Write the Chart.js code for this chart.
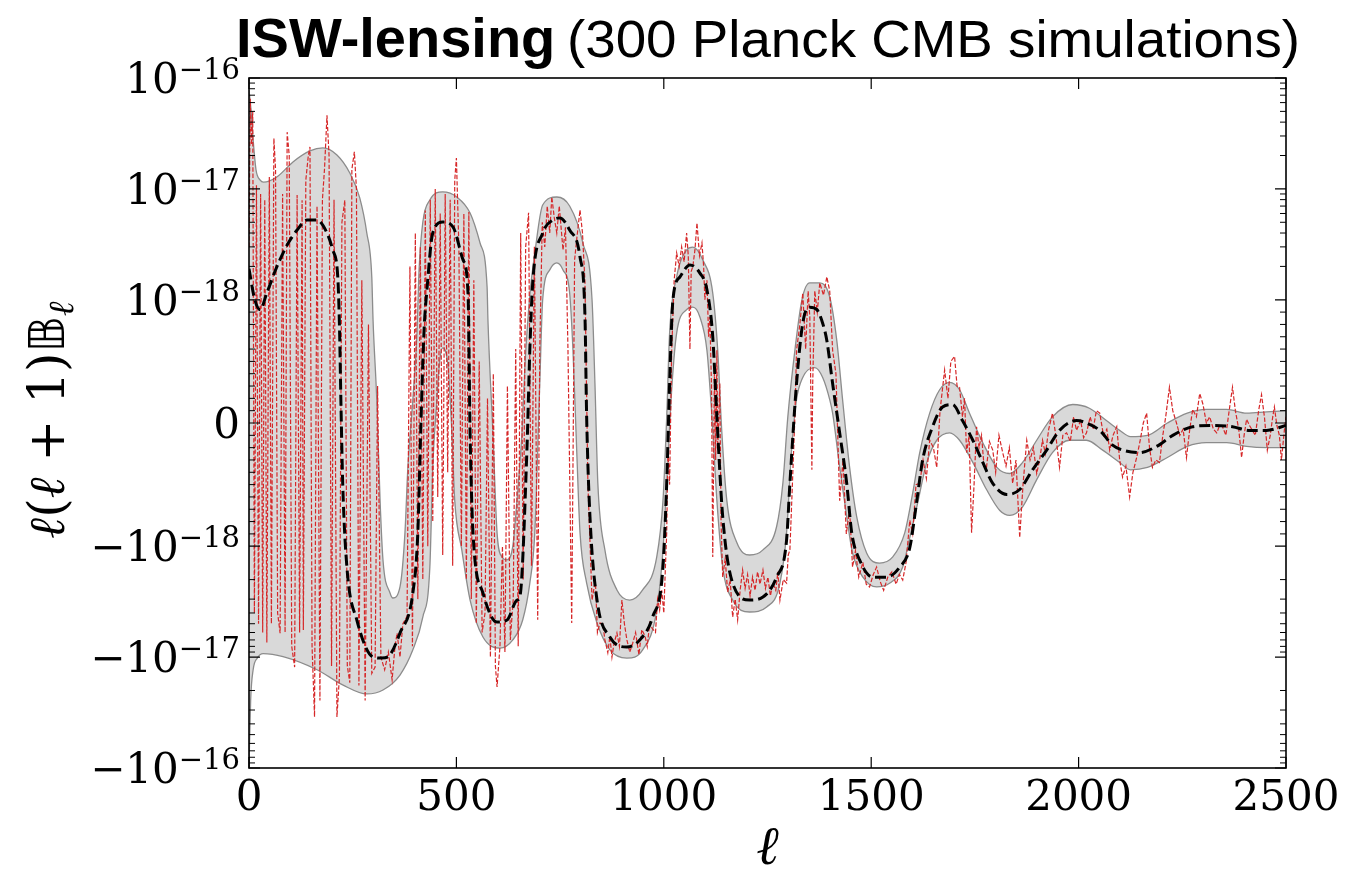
<!DOCTYPE html>
<html>
<head>
<meta charset="utf-8">
<script src="https://cdn.jsdelivr.net/npm/chart.js@4.4.1/dist/chart.umd.min.js"></script>
<style>
  html, body { margin: 0; padding: 0; background: #fff; }
</style>
</head>
<body>
<canvas id="chart" width="1351" height="873"></canvas>
<script>
// all values in units of 1e-18
const meanEll = [0, 14, 27, 43, 67, 92, 116, 140, 164, 188, 202, 214, 218, 222, 226, 236, 260, 299, 320, 340, 364, 395, 407, 414, 422, 429, 443, 467, 492, 516, 528, 533, 540, 564, 598, 622, 646, 653, 670, 677, 684, 708, 733, 749, 773, 798, 810, 814, 822, 839, 870, 911, 942, 973, 998, 1007, 1014, 1022, 1039, 1063, 1087, 1104, 1118, 1128, 1142, 1166, 1207, 1239, 1272, 1296, 1304, 1320, 1335, 1352, 1369, 1383, 1393, 1407, 1424, 1441, 1453, 1472, 1504, 1537, 1569, 1593, 1610, 1624, 1648, 1672, 1696, 1720, 1745, 1769, 1793, 1827, 1858, 1889, 1923, 1954, 1995, 2019, 2051, 2082, 2106, 2147, 2188, 2227, 2275, 2323, 2371, 2412, 2453, 2500];
const meanVal = [1.9, 1.0, 0.92, 1.15, 1.98, 3.12, 4.26, 5.24, 5.24, 4.0, 2.81, 1.61, 0.8, 0.1, -0.5, -1.54, -4.63, -9.98, -10.2, -9.5, -6.06, -2.64, -0.89, -0.06, 0.75, 1.23, 4.0, 5.03, 4.53, 2.29, 1.15, -0.08, -0.89, -2.64, -4.83, -4.63, -3.06, -2.85, -0.22, 0.59, 1.42, 4.0, 5.24, 5.47, 4.26, 2.43, 0.86, 0.05, -0.76, -3.06, -6.59, -8.11, -7.01, -4.35, -1.54, -0.49, 0.32, 1.0, 1.61, 2.06, 1.74, 1.23, 0.70, 0.05, -0.76, -2.15, -3.06, -2.87, -1.90, -0.95, -0.49, 0.32, 0.81, 0.94, 0.92, 0.81, 0.67, 0.32, -0.08, -0.49, -0.89, -1.33, -1.90, -1.90, -1.54, -1.03, -0.63, -0.30, -0.03, 0.13, 0.15, 0.02, -0.14, -0.32, -0.49, -0.58, -0.54, -0.38, -0.22, -0.06, 0.02, 0.0, -0.06, -0.18, -0.22, -0.24, -0.19, -0.10, -0.03, -0.02, -0.03, -0.06, -0.06, -0.02];

const upperEll = [0, 5, 10, 17, 27, 35, 67, 106, 147, 178, 212, 243, 267, 284, 296, 299, 308, 316, 323, 340, 347, 364, 376, 383, 395, 405, 410, 419, 436, 467, 501, 533, 557, 574, 576, 588, 598, 610, 622, 636, 646, 658, 665, 677, 690, 708, 742, 773, 805, 827, 834, 841, 858, 887, 918, 949, 983, 998, 1007, 1014, 1031, 1055, 1070, 1094, 1118, 1130, 1140, 1152, 1176, 1207, 1239, 1272, 1287, 1299, 1316, 1333, 1352, 1376, 1400, 1417, 1431, 1448, 1465, 1489, 1520, 1552, 1581, 1600, 1617, 1641, 1665, 1689, 1713, 1737, 1769, 1803, 1834, 1865, 1899, 1937, 1986, 2026, 2067, 2099, 2125, 2166, 2214, 2262, 2308, 2357, 2405, 2453, 2500];
const upperVal = [78, 51, 27.6, 14.8, 12.0, 11.5, 12.8, 17.5, 22, 23.4, 20.2, 13.9, 8.3, 4.0, 1.61, 0.84, 0.19, -0.63, -1.33, -2.64, -2.93, -2.33, -0.89, -0.36, 0.19, 0.73, 1.86, 5.0, 7.94, 9.4, 8.45, 6.06, 3.25, 1.30, 0.84, -0.08, -0.89, -1.25, -1.33, -1.0, -0.63, -0.08, 0.45, 1.10, 2.81, 7.16, 8.45, 7.01, 3.25, 1.0, 0.32, -0.49, -1.08, -2.48, -3.06, -2.48, -1.25, -0.63, 0.05, 0.73, 1.61, 2.81, 2.99, 2.29, 1.15, 0.59, -0.08, -0.63, -0.97, -1.20, -1.08, -0.84, -0.49, 0.05, 0.59, 1.0, 1.42, 1.42, 1.06, 0.67, 0.19, -0.36, -0.76, -1.15, -1.42, -1.25, -0.89, -0.57, -0.24, 0.08, 0.27, 0.33, 0.27, 0.08, -0.16, -0.36, -0.41, -0.32, -0.14, 0.05, 0.15, 0.12, 0.02, -0.06, -0.11, -0.10, 0.0, 0.08, 0.11, 0.11, 0.08, 0.09, 0.10];

const lowerEll = [0, 4, 10, 20, 34, 82, 164, 227, 284, 323, 364, 395, 419, 436, 443, 453, 460, 467, 480, 489, 496, 513, 533, 564, 605, 636, 660, 677, 689, 701, 708, 725, 742, 757, 773, 781, 790, 798, 814, 839, 870, 911, 949, 983, 998, 1007, 1020, 1031, 1055, 1070, 1087, 1104, 1116, 1128, 1142, 1166, 1207, 1248, 1280, 1296, 1308, 1320, 1335, 1364, 1383, 1400, 1407, 1424, 1441, 1455, 1480, 1513, 1545, 1576, 1593, 1610, 1634, 1658, 1689, 1713, 1745, 1778, 1810, 1834, 1865, 1899, 1937, 1978, 2019, 2058, 2099, 2125, 2166, 2214, 2262, 2308, 2357, 2405, 2453, 2500];
const lowerVal = [-98, -24.4, -13, -10.2, -9.3, -9.9, -13, -17.9, -21.5, -19.8, -14.5, -8.6, -4.35, -1.54, -0.36, 0.19, 0.51, 0.61, 0.45, -0.08, -0.63, -1.08, -3.06, -6.59, -8.3, -7.0, -4.6, -2.15, -0.89, 0.32, 1.0, 1.86, 2.15, 1.86, 1.15, 0.59, -0.22, -0.89, -2.15, -4.93, -8.6, -10.2, -8.6, -3.76, -1.08, -0.49, 0.32, 0.73, 0.92, 0.94, 0.86, 0.59, 0.05, -0.63, -1.54, -3.06, -3.92, -3.53, -2.15, -0.89, -0.22, 0.19, 0.37, 0.45, 0.37, 0.19, 0.08, -0.36, -0.76, -1.15, -1.90, -2.33, -2.15, -1.54, -0.93, -0.68, -0.32, -0.14, -0.08, -0.14, -0.32, -0.54, -0.71, -0.75, -0.68, -0.46, -0.24, -0.14, -0.14, -0.22, -0.32, -0.38, -0.36, -0.28, -0.19, -0.16, -0.16, -0.19, -0.20, -0.20];

// one simulation
const simEll = [0, 3, 6, 9, 13, 18, 23, 28, 33, 38, 43, 49, 54, 60, 64, 69, 75, 81, 87, 92, 97, 103, 110, 116, 122, 128, 131, 137, 143, 147, 152, 158, 164, 171, 177, 182, 188, 193, 199, 205, 212, 218, 224, 231, 237, 243, 248, 254, 259, 265, 272, 280, 288, 296, 304, 310, 318, 327, 336, 345, 352, 357, 364, 371, 381,
  388, 394, 401, 407, 413, 419, 425, 431, 437, 443, 449, 455, 461, 467, 473, 479, 485, 491, 496, 500, 506, 512, 518, 524, 530, 536, 542, 548, 555, 562, 569, 575, 582, 589, 594, 598, 605, 611, 617, 623, 630, 637, 643, 649, 655, 661, 667, 674, 681, 688, 696, 701, 707, 713, 719, 725,
  730, 736, 742, 748, 757, 763, 769, 778, 785, 790, 798, 804, 810, 817, 827, 835, 840, 846, 853, 858, 865, 870, 875, 880, 887, 893, 899, 905, 911, 918, 925, 932, 940, 947, 955, 960, 966, 972, 980, 985, 990, 995, 1000, 1004, 1007, 1010, 1014, 1019, 1025, 1031, 1037, 1043, 1049, 1055, 1059, 1063, 1066, 1070, 1075, 1080, 1086, 1092, 1096, 1099, 1104, 1108, 1111, 1115, 1118, 1122, 1125, 1128, 1130, 1135, 1138, 1142, 1148, 1154, 1160, 1166, 1172, 1178, 1184, 1190, 1196, 1202, 1208, 1214, 1220, 1226, 1232, 1239, 1245, 1251, 1257, 1263, 1270, 1275, 1280, 1288, 1296, 1300, 1304, 1310, 1316, 1320, 1328, 1335, 1342, 1348, 1352, 1357, 1359, 1364, 1370, 1376, 1385, 1393,
  1400, 1407, 1415, 1424, 1432, 1440, 1448, 1455, 1462, 1470, 1480, 1488, 1496, 1505, 1513, 1522, 1530, 1540, 1550, 1560, 1568, 1576, 1584, 1593, 1600, 1608, 1617, 1625, 1633, 1641, 1650, 1658, 1666, 1677, 1685, 1692, 1701, 1707, 1713, 1720, 1725, 1730, 1736, 1742, 1748, 1754, 1760, 1766, 1772, 1778, 1785, 1793, 1800, 1808, 1817, 1825, 1833, 1841, 1849, 1858, 1866, 1875, 1883, 1891, 1899, 1906, 1913, 1920, 1928, 1937, 1945, 1954, 1962, 1971, 1980, 1988, 1995, 2005, 2012, 2019, 2028, 2035, 2043, 2051, 2060, 2068, 2075, 2083, 2092, 2099, 2106, 2114, 2123, 2131, 2140, 2148, 2156, 2164, 2171, 2178, 2186, 2195, 2203, 2210, 2219, 2227, 2236, 2244, 2252, 2260, 2268, 2275, 2284, 2292, 2300, 2308, 2316, 2325, 2333, 2340, 2347, 2355, 2363, 2371, 2378, 2386, 2393, 2399, 2405, 2412, 2419, 2426, 2434, 2441, 2448, 2455, 2462, 2468, 2472, 2478, 2484, 2489, 2496, 2500];
const simVal = [3, 65, 25, 50, -4, 10.8, -5, 9, -6, 8, -7.4, 12.8, -5, 28.6, 15, -4, -6.1, 9, -6, 32.5, 20, -8, -12.3, 8.8, -6, 7.9, -5.7, 12, 20, 23.9, -8, -34.6, 7, -24.6, 8, 15, 46, 20, -12, 8, -34.6, -15, 5, 7.9, -12, -17, 15, 21.6, 10, -18, 1.5, -24.6, 0.8, -14, -12.3, 0.3, -10, -13, -9, -16, -8, -6.1, -10, -5, -4.3,
  2, -8, 4, -3, 3, -2, 6.4, -1, 8, -0.8, 10, -0.6, 6, -1.2, 9, -0.4, 8, -1.5, 12, 19, 3, -1, 6, -2, 6.2, -3, 1.5, -5, 0.5, -6, -4, 0.2, -10, 0.4, -12, -18.6, -8, -1, -9, 0.3, -7, -3, 0.6, -8, 4.0, -2, 3, 6.1, -1.5, 3, -4.6, 0.6, 5, 3, 7, 4,
  8.45, 5.5, 4.0, 7, 2.81, 4.5, 0.59, -4.93, 2.3, 3.5, 6.45, 4, 1.42, -0.49, -3.06, -2, -6, -4.93, -5, -7, -9.1, -6.5, -10, -7.5, -6.06, -8, -3.06, -5, -7.0, -9, -7.5, -6, -9.5, -5.65, -6.5, -8, -4.93, -5.5, -6, -3, -3.76, -2.5, -4, -1.5, -0.89, -0.22, -0.5, 0.59, 1.5, 2.64, 2, 3, 2.2, 4.0, 2.5, 0.6, 1.8, 2.0, 2.8, 4.93, 2.5, 3.25, 2, 1.0, 1.5, 0.7, 0.86, 0.3, -1.25, 0.4, -0.3, 0.59, -0.22, 0.32, -0.8, -1.90, -1.3, -2.6, -2.0, -4.35, -3, -4.62, -2.5, -1.64, -2.4, -1.8, -2.8, -1.90, -2.5, -1.7, -2.2, -1.64, -2.4, -1.9, -2.8, -2.15, -2.5, -1.7, -3.06, -2.0, -2.15, -1.2, -1.08, -0.5, 0.05, 0.59, 0.8, 1.15, 0.6, 1.2, 0.86, -0.38, 0.32, 1.2, 0.9, 1.42, 1.1, 1.61,
  1.2, 0.59, 0.4, -0.63, -0.3, -0.9, -0.7, -1.54, -1.1, -1.9, -1.4, -2.2, -2.33, -1.8, -1.54, -2.1, -2.5, -1.9, -1.7, -2.2, -1.8, -2.02, -1.4, -0.79, -0.9, -0.5, -0.49, -0.3, -0.45, -0.14, -0.2, -0.36, 0.1, 0.43, 0.2, 0.5, 0.54, 0.3, 0.29, 0.05, 0.2, -0.24, -0.1, -0.89, -0.5, -0.03, -0.2, -0.1, -0.35, -0.36, -0.15, -0.22, -0.4, -0.1, -0.24, -0.35, -0.2, -0.49, -0.3, -0.93, -0.5, -0.14, -0.3, -0.2, -0.41, -0.3, -0.14, -0.25, -0.05, 0.08, -0.1, -0.36, -0.1, -0.08, -0.15, 0.05, -0.06, 0.02, -0.12, -0.08, 0.05, -0.05, 0.1, 0.08, -0.1, -0.05, -0.22, -0.1, -0.03, -0.3, -0.44, -0.35, -0.60, -0.4, -0.28, -0.15, 0.0, 0.08, -0.2, -0.36, -0.3, -0.32, -0.1, 0.05, 0.29, 0.1, 0, -0.1, -0.05, -0.28, -0.05, 0.11, 0.05, 0.24, 0.15, 0, 0.05, -0.05, -0.08, -0.02, -0.03, -0.1, 0.1, 0.29, 0.1, -0.05, -0.28, -0.1, 0.03, -0.02, -0.06, -0.1, 0.1, 0.23, 0.05, -0.22, -0.1, 0.05, 0.13, -0.02, -0.1, -0.30, -0.06, 0.05];

const xTicks = [0, 500, 1000, 1500, 2000, 2500];
const yTicks = [-100, -10, -1, 0, 1, 10, 100];
const yTickLabels = [['\u221210', '\u221216'], ['\u221210', '\u221217'], ['\u221210', '\u221218'], ['0', ''], ['10', '\u221218'], ['10', '\u221217'], ['10', '\u221216']];

// symlog with linthresh = 1 (i.e. 1e-18), linscale = 1, base 10
const LIN = 1 / (1 - 0.1);
function symlog(v) {
  const a = Math.abs(v);
  const s = a <= 1 ? a * LIN : LIN + Math.log10(a);
  return v < 0 ? -s : s;
}
const YMAX = symlog(100);

function pts(ell, val) {
  return ell.map((l, i) => ({x: l, y: symlog(val[i])}));
}

// minor ticks: linear part and 2..9 in each decade
const minorTicks = [];
for (let k = 1; k <= 9; k++) { minorTicks.push(k / 10, -k / 10); }
for (let k = 2; k <= 9; k++) { minorTicks.push(k, -k, k * 10, -k * 10); }

const SERIF = '"DejaVu Serif", serif';

const axesDecor = {
  id: 'axesDecor',
  afterDraw(chart) {
    const {ctx, chartArea: a, scales: {x, y}} = chart;
    ctx.save();
    ctx.strokeStyle = '#000';

    // x ticks, top and bottom, pointing in
    ctx.lineWidth = 1.2;
    ctx.beginPath();
    xTicks.forEach(t => {
      const px = x.getPixelForValue(t);
      ctx.moveTo(px, a.bottom); ctx.lineTo(px, a.bottom - 11);
      ctx.moveTo(px, a.top); ctx.lineTo(px, a.top + 11);
    });
    yTicks.forEach(t => {
      const py = y.getPixelForValue(symlog(t));
      ctx.moveTo(a.left, py); ctx.lineTo(a.left + 11, py);
      ctx.moveTo(a.right, py); ctx.lineTo(a.right - 11, py);
    });
    ctx.stroke();
    ctx.lineWidth = 1;
    ctx.beginPath();
    minorTicks.forEach(t => {
      const py = y.getPixelForValue(symlog(t));
      ctx.moveTo(a.left, py); ctx.lineTo(a.left + 6, py);
      ctx.moveTo(a.right, py); ctx.lineTo(a.right - 6, py);
    });
    ctx.stroke();

    // frame
    ctx.lineWidth = 1.6;
    ctx.strokeRect(a.left, a.top, a.right - a.left, a.bottom - a.top);

    // tick labels
    ctx.fillStyle = '#000';
    ctx.textBaseline = 'alphabetic';
    ctx.font = '42px ' + SERIF;
    ctx.textAlign = 'center';
    xTicks.forEach(t => {
      ctx.fillText(String(t), x.getPixelForValue(t), a.bottom + 42);
    });
    ctx.textAlign = 'left';
    yTicks.forEach((t, i) => {
      const py = y.getPixelForValue(symlog(t));
      const [base, sup] = yTickLabels[i];
      ctx.font = '29px ' + SERIF;
      const sw = ctx.measureText(sup).width;
      ctx.font = '42px ' + SERIF;
      const bw = ctx.measureText(base).width;
      const right = a.left - 9;
      ctx.fillText(base, right - sw - bw, py + 15);
      if (sup) {
        ctx.font = '29px ' + SERIF;
        ctx.fillText(sup, right - sw, py + 1);
      }
    });

    // x axis label
    ctx.font = 'italic 54px ' + SERIF;
    ctx.textAlign = 'center';
    ctx.fillText('\u2113', (a.left + a.right) / 2, 864);

    // y axis label, rotated
    const parts = [
      {t: '\u2113', f: 'italic 50px ' + SERIF, dy: 0},
      {t: '(', f: '50px ' + SERIF, dy: 0},
      {t: '\u2113', f: 'italic 50px ' + SERIF, dy: 0},
      {t: ' + 1)', f: '50px ' + SERIF, dy: 0},
      {t: '\uD835\uDD39', f: '50px "DejaVu Sans", ' + SERIF, dy: 0},
      {t: '\u2113', f: 'italic 35px ' + SERIF, dy: 9}
    ];
    let total = 0;
    parts.forEach(p => { ctx.font = p.f; p.w = ctx.measureText(p.t).width; total += p.w; });
    ctx.save();
    ctx.translate(64, (a.top + a.bottom) / 2 - 3);
    ctx.rotate(-Math.PI / 2);
    ctx.textAlign = 'left';
    let cx = -total / 2;
    parts.forEach(p => { ctx.font = p.f; ctx.fillText(p.t, cx, p.dy); cx += p.w; });
    ctx.restore();

    // title: bold part then regular part
    const bold = 'ISW-lensing';
    const rest = '(300 Planck CMB simulations)';
    ctx.textAlign = 'left';
    ctx.font = 'bold 56px "Liberation Sans", Arial, sans-serif';
    ctx.fillText(bold, 236, 57);
    ctx.font = '52px "Liberation Sans", Arial, sans-serif';
    const rw = ctx.measureText(rest).width;
    const rx = 567, rEnd = 1300;
    ctx.save();
    ctx.translate(rx, 57);
    ctx.scale((rEnd - rx) / rw, 1);
    ctx.fillText(rest, 0, 0);
    ctx.restore();

    ctx.restore();
  }
};

new Chart(document.getElementById('chart'), {
  type: 'line',
  data: {
    datasets: [
      {
        label: 'lower', data: pts(lowerEll, lowerVal),
        borderColor: '#8c8c8c', borderWidth: 1.3, pointRadius: 0, fill: false,
        cubicInterpolationMode: 'monotone', order: 4
      },
      {
        label: 'upper', data: pts(upperEll, upperVal),
        borderColor: '#8c8c8c', borderWidth: 1.3, backgroundColor: '#d9d9d9', pointRadius: 0,
        fill: '-1', cubicInterpolationMode: 'monotone', order: 3
      },
      {
        label: 'simulation', data: pts(simEll, simVal),
        borderColor: '#d62728', borderWidth: 1.2, borderDash: [4.4, 1.9], pointRadius: 0,
        fill: false, tension: 0, order: 2
      },
      {
        label: 'mean', data: pts(meanEll, meanVal),
        borderColor: '#000', borderWidth: 3, borderDash: [11, 5], pointRadius: 0,
        fill: false, cubicInterpolationMode: 'monotone', order: 1
      }
    ]
  },
  options: {
    responsive: false,
    animation: false,
    layout: { padding: { left: 249, right: 65, top: 78, bottom: 105 } },
    scales: {
      x: { type: 'linear', min: 0, max: 2500, display: false },
      y: { type: 'linear', min: -YMAX, max: YMAX, display: false }
    },
    plugins: {
      legend: { display: false },
      tooltip: { enabled: false },
      filler: { drawTime: 'beforeDatasetsDraw' }
    }
  },
  plugins: [axesDecor]
});
</script>
</body>
</html>
